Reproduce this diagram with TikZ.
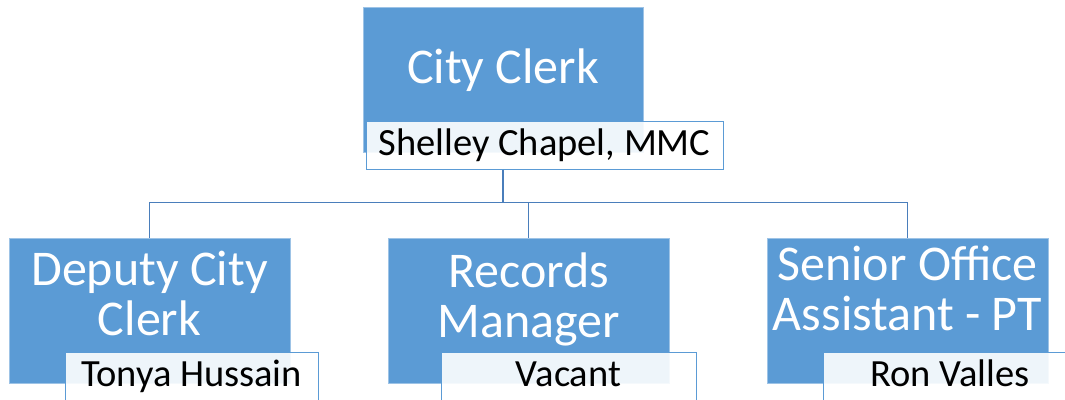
\documentclass[tikz,border=0pt]{standalone}
\usepackage{fontspec}
\setmainfont{Carlito}
\definecolor{boxblue}{HTML}{5B9BD5}
\definecolor{boxedge}{HTML}{9DC3E6}
\definecolor{lineblue}{HTML}{4A7EBB}
\begin{document}
\begin{tikzpicture}[x=1pt,y=-1pt,
  bluebox/.style={draw=boxedge,line width=0.8pt,fill=boxblue,rectangle,inner sep=0pt},
  titletext/.style={text=white,font=\fontsize{50}{50}\selectfont,align=center,inner sep=0pt,anchor=base},
  namebox/.style={draw=boxblue,line width=1pt,fill=white,fill opacity=0.9,text opacity=1,rectangle,inner sep=0pt,
    font=\fontsize{38.5}{40}\selectfont,text=black,text height=28pt,text depth=8pt,minimum height=48pt},
  conn/.style={draw=lineblue,line width=1.3pt}]
\useasboundingbox (0,0) rectangle (1065,399);
\clip (0,0) rectangle (1065,399);
% top
\node[bluebox,minimum width=280pt,minimum height=145pt] (b0) at (503,79.5) {};
\node[titletext] (t0) at (503,83) {City Clerk};
\node[namebox,minimum width=357pt] (n0) at (544.5,145) {Shelley Chapel, MMC};
% children
\node[bluebox,minimum width=281pt,minimum height=145pt] (b1) at (149.5,310.5) {};
\node[titletext] (t1) at (149.5,335) {Deputy City\\Clerk};
\node[namebox,minimum width=253pt] (n1) at (191.5,376) {Tonya Hussain};
\node[bluebox,minimum width=281pt,minimum height=145pt] (b2) at (528.5,310.5) {};
\node[titletext] (t2) at (528.5,337) {Records\\Manager};
\node[namebox,minimum width=255pt] (n2) at (568.5,376) {Vacant};
\node[bluebox,minimum width=281pt,minimum height=145pt] (b3) at (907.5,310.5) {};
\node[titletext] (t3) at (907.5,330) {Senior Office\\Assistant - PT};
\node[namebox,minimum width=254pt] (n3) at (950,376) {Ron Valles};
% connectors
\coordinate (bus) at (0,202.5);
\draw[conn] (b0 |- n0.south) -- (b0 |- bus);
\draw[conn] (b1.north) -- (b1 |- bus) -- (b3 |- bus) -- (b3.north);
\draw[conn] (b2 |- bus) -- (b2.north);
\end{tikzpicture}
\end{document}
